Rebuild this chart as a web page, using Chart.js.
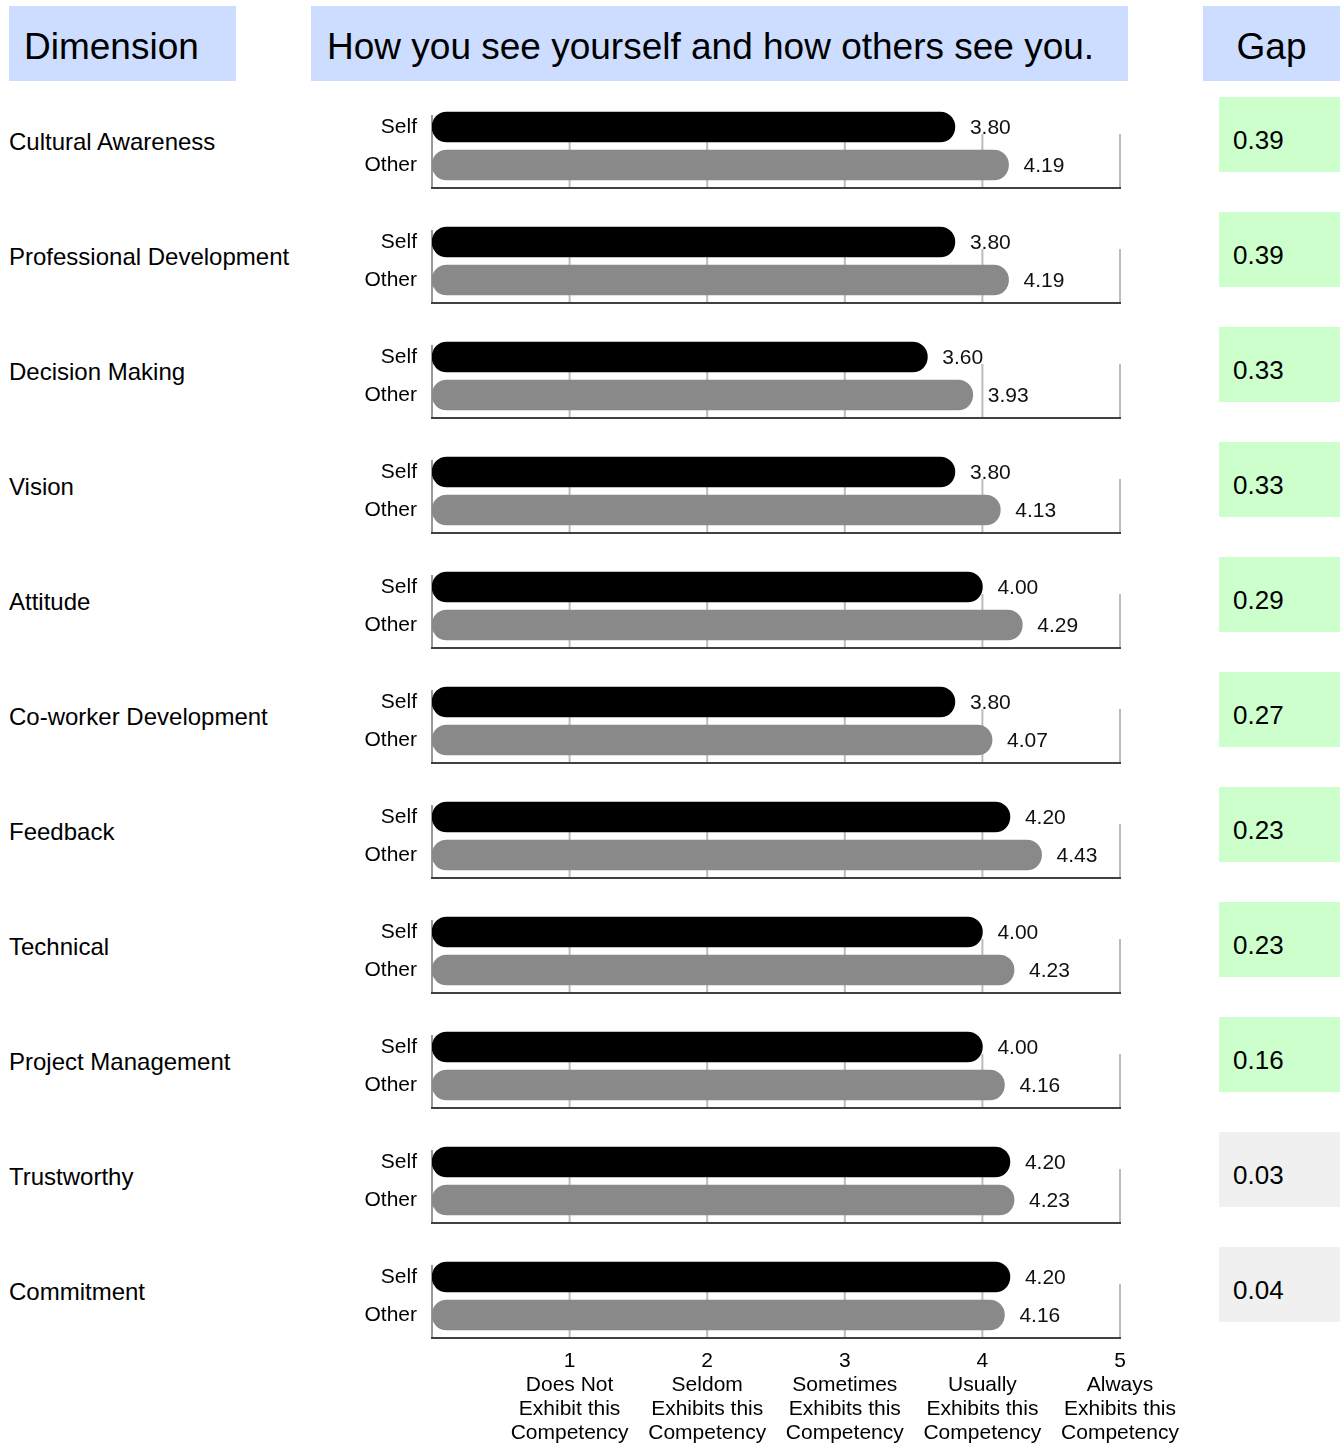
<!DOCTYPE html>
<html>
<head>
<meta charset="utf-8">
<script src="https://cdn.jsdelivr.net/npm/chart.js@4.4.1/dist/chart.umd.min.js"></script>
<style>
  body { margin: 0; background: #fff; font-family: "Liberation Sans", Arial, sans-serif; }
  #page { position: relative; width: 1340px; height: 1445px; overflow: hidden; }
  .head { position: absolute; top: 6px; height: 75px; background: #ccddff; font-size: 37px; line-height: 81px; color: #000; box-sizing: border-box; }
  .dim { position: absolute; left: 9px; font-size: 24px; color: #000; line-height: 30px; }
  .gap { position: absolute; left: 1219px; width: 121px; height: 75px; font-size: 26px; line-height: 87px; padding-left: 14px; box-sizing: border-box; }
  .row { position: absolute; left: 340px; width: 860px; }
</style>
</head>
<body>
<div id="page">
  <div class="head" style="left:9px;width:227px;padding-left:15px;">Dimension</div>
  <div class="head" style="left:311px;width:817px;padding-left:16px;">How you see yourself and how others see you.</div>
  <div class="head" style="left:1203px;width:137px;text-align:center;">Gap</div>
</div>
<script>
// Data
const dimensions = ['Cultural Awareness', 'Professional Development', 'Decision Making', 'Vision',
    'Attitude', 'Co-worker Development', 'Feedback', 'Technical', 'Project Management',
    'Trustworthy', 'Commitment'];
const selfScores  = [3.80, 3.80, 3.60, 3.80, 4.00, 3.80, 4.20, 4.00, 4.00, 4.20, 4.20];
const otherScores = [4.19, 4.19, 3.93, 4.13, 4.29, 4.07, 4.43, 4.23, 4.16, 4.23, 4.16];
const gaps        = ['0.39', '0.39', '0.33', '0.33', '0.29', '0.27', '0.23', '0.23', '0.16', '0.03', '0.04'];
const raterLabels = ['Self', 'Other'];
const scaleLabels = [
    [''],
    ['1', 'Does Not', 'Exhibit this', 'Competency'],
    ['2', 'Seldom', 'Exhibits this', 'Competency'],
    ['3', 'Sometimes', 'Exhibits this', 'Competency'],
    ['4', 'Usually', 'Exhibits this', 'Competency'],
    ['5', 'Always', 'Exhibits this', 'Competency']
];

const FONT = '"Liberation Sans", Arial, sans-serif';
const page = document.getElementById('page');

// partial grid lines, left axis and bottom axis like the original sheet
const framePlugin = {
    id: 'frame',
    beforeDatasetsDraw(chart) {
        const ctx = chart.ctx;
        const area = chart.chartArea;
        const x = chart.scales.x;
        const base = area.bottom + 4;
        ctx.save();
        ctx.lineWidth = 2;
        ctx.strokeStyle = '#bcbcbc';
        for (let v = 1; v <= 5; v++) {
            const px = x.getPixelForValue(v);
            ctx.beginPath();
            ctx.moveTo(px, area.top + 26);
            ctx.lineTo(px, base);
            ctx.stroke();
        }
        ctx.strokeStyle = '#999999';
        ctx.beginPath();
        ctx.moveTo(x.getPixelForValue(0), area.top + 7);
        ctx.lineTo(x.getPixelForValue(0), base);
        ctx.stroke();
        ctx.strokeStyle = '#404040';
        ctx.beginPath();
        ctx.moveTo(x.getPixelForValue(0) - 1, base);
        ctx.lineTo(x.getPixelForValue(5) + 1, base);
        ctx.stroke();
        ctx.restore();
    },
    afterDatasetsDraw(chart) {
        const ctx = chart.ctx;
        ctx.save();
        ctx.font = '21px ' + FONT;
        ctx.fillStyle = '#111';
        ctx.textBaseline = 'middle';
        chart.data.datasets.forEach((ds, di) => {
            chart.getDatasetMeta(di).data.forEach((bar, i) => {
                const v = ds.data[i];
                if (v == null) return;
                ctx.fillText(v.toFixed(2), bar.x + 15, bar.y + 1);
            });
        });
        ctx.restore();
    }
};

dimensions.forEach(function(name, i) {
    const isLast = i === dimensions.length - 1;
    const top = 108 + 115 * i;

    const label = document.createElement('div');
    label.className = 'dim';
    label.style.top = (top + 19) + 'px';
    label.textContent = name;
    page.appendChild(label);

    const gap = document.createElement('div');
    gap.className = 'gap';
    gap.style.top = (top - 11) + 'px';
    gap.style.background = i >= 9 ? '#f0f0f0' : '#ccffcc';
    gap.textContent = gaps[i];
    page.appendChild(gap);

    const holder = document.createElement('div');
    holder.className = 'row';
    holder.style.top = top + 'px';
    holder.style.height = (isLast ? 186 : 90) + 'px';
    const canvas = document.createElement('canvas');
    holder.appendChild(canvas);
    page.appendChild(holder);

    new Chart(canvas, {
        type: 'bar',
        data: {
            labels: raterLabels,
            datasets: [{
                data: [selfScores[i], null],
                backgroundColor: '#000000',
                barThickness: 30,
                borderRadius: 15,
                borderSkipped: false,
                grouped: false
            }, {
                data: [null, otherScores[i]],
                backgroundColor: '#898989',
                barThickness: 30,
                borderRadius: 15,
                borderSkipped: false,
                grouped: false
            }]
        },
        options: {
            indexAxis: 'y',
            responsive: true,
            maintainAspectRatio: false,
            animation: false,
            layout: { padding: { top: 0, right: 80, left: 0, bottom: 0 } },
            plugins: { legend: { display: false }, tooltip: { enabled: false } },
            scales: {
                x: {
                    min: 0,
                    max: 5,
                    grid: { display: false, drawTicks: false },
                    border: { display: false },
                    ticks: {
                        display: isLast,
                        stepSize: 1,
                        autoSkip: false,
                        maxRotation: 0,
                        padding: 15,
                        color: '#000',
                        font: { family: FONT, size: 21, lineHeight: 1.15 },
                        callback: function(value) { return scaleLabels[value] || ''; }
                    },
                    afterFit: function(scale) {
                        scale.height = isLast ? 110 : 14;
                        scale.paddingLeft = 0;
                        scale.paddingRight = 0;
                    }
                },
                y: {
                    grid: { display: false, drawTicks: false },
                    border: { display: false },
                    ticks: {
                        padding: 15,
                        autoSkip: false,
                        color: '#000',
                        font: { family: FONT, size: 21 }
                    },
                    afterFit: function(scale) {
                        scale.width = 92;
                        scale.paddingTop = 0;
                        scale.paddingBottom = 0;
                    }
                }
            }
        },
        plugins: [framePlugin]
    });
});
</script>
</body>
</html>
